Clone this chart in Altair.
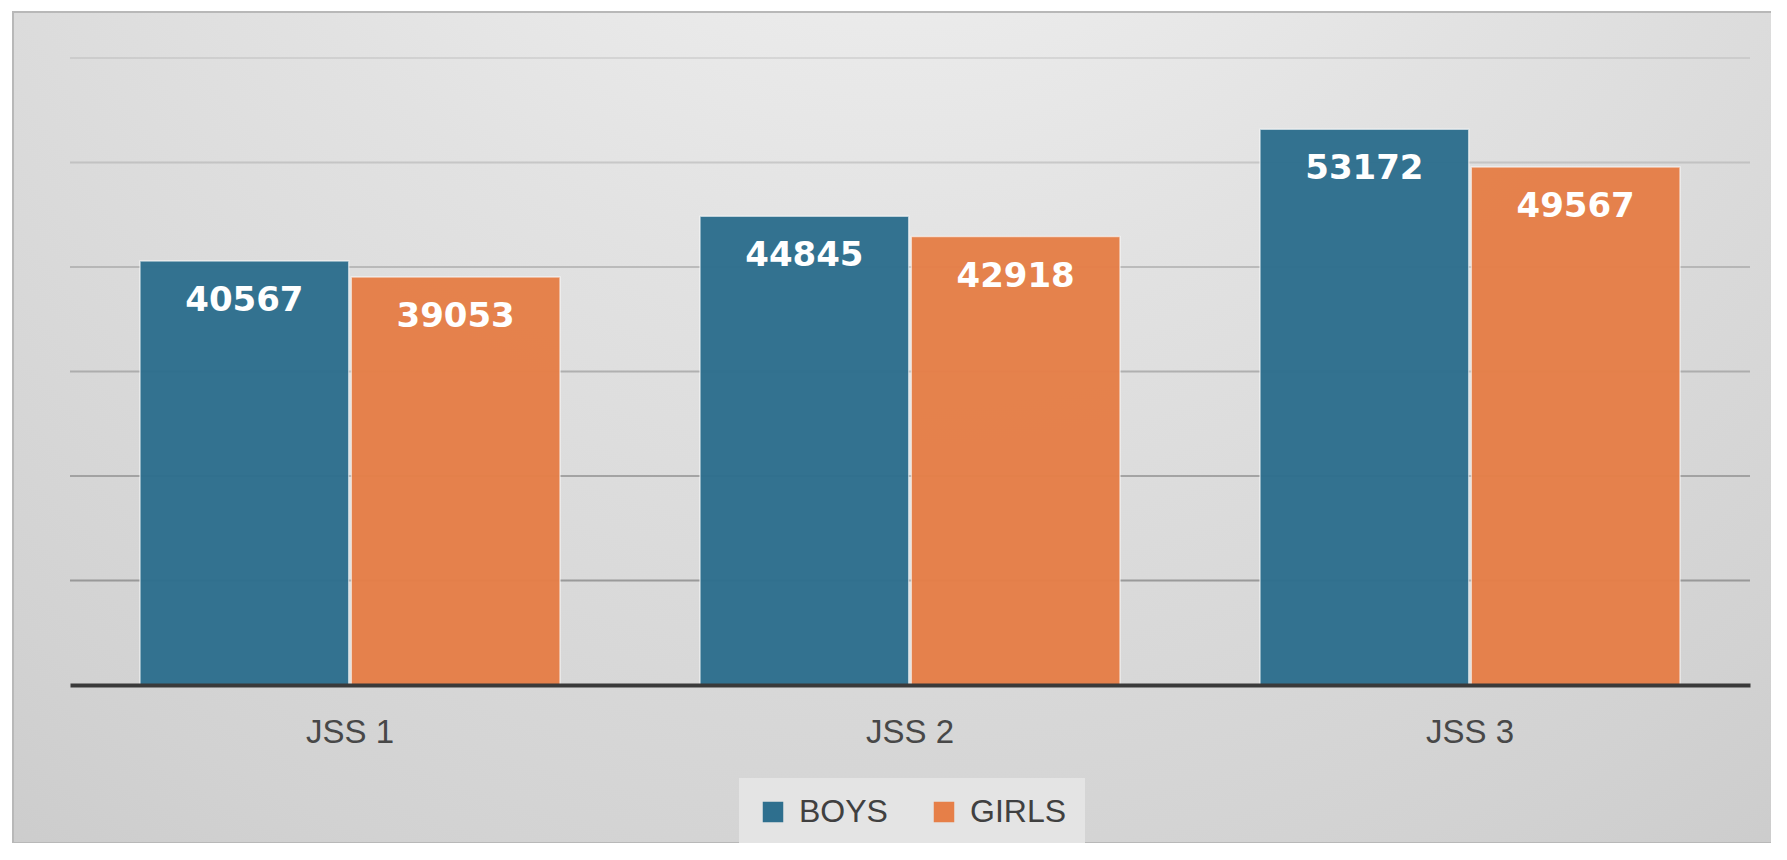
import altair as alt
import pandas as pd

categories = ["JSS 1", "JSS 2", "JSS 3"]
series = ["BOYS", "GIRLS"]
boys = [40567, 44845, 53172]
girls = [39053, 42918, 49567]
grid_values = [10000, 20000, 30000, 40000, 50000, 60000]
colors = ["#2e6f8e", "#e67f48"]

rows = []
for c, b, g in zip(categories, boys, girls):
    rows.append({"grade": c, "gender": "BOYS", "count": b})
    rows.append({"grade": c, "gender": "GIRLS", "count": g})
df = pd.DataFrame(rows)
grid_df = pd.DataFrame({"v": grid_values})

W, H = 1680, 627

y_scale = alt.Scale(domain=[0, 60000], nice=False)

bg = alt.Chart(pd.DataFrame({"a": [0]})).mark_rect(
    color=alt.RadialGradient(
        gradient="radial",
        stops=[
            alt.GradientStop(color="#ffffff", offset=0),
            alt.GradientStop(color="#f2f2f2", offset=0.12),
            alt.GradientStop(color="#e2e2e2", offset=0.4),
            alt.GradientStop(color="#d2d2d2", offset=0.75),
            alt.GradientStop(color="#c4c4c4", offset=1),
        ],
        x1=0.5, y1=0.0, r1=0.0, x2=0.5, y2=0.0, r2=1.05,
    ),
    stroke="#b8b8b8",
    strokeWidth=2,
).encode(
    x=alt.value(-57), x2=alt.value(1709), y=alt.value(-46), y2=alt.value(785)
)

grid = alt.Chart(grid_df).mark_rule(color="#8e8e8e", strokeWidth=2).encode(
    y=alt.Y("v:Q", scale=y_scale, axis=None),
    opacity=alt.Opacity("v:Q", scale=alt.Scale(domain=[60000, 10000], range=[0.2, 0.85]), legend=None),
)

x_enc = alt.X(
    "grade:N",
    sort=categories,
    scale=alt.Scale(paddingInner=0.25, paddingOuter=0.125),
    axis=alt.Axis(
        title=None, labelAngle=0, ticks=False, tickSize=0, labelPadding=57,
        labelBaseline="alphabetic", labelFontSize=33, labelFont="Liberation Sans",
        labelColor="#484848", domainColor="#3a3a3a", domainWidth=4, grid=False,
        zindex=1,
    ),
)
xoff = alt.XOffset("gender:N", sort=series, scale=alt.Scale(paddingInner=0.012))

bars = alt.Chart(df).mark_bar(opacity=0.97, stroke="#ffffff", strokeWidth=1.5, strokeOpacity=0.6).encode(
    x=x_enc,
    xOffset=xoff,
    y=alt.Y("count:Q", scale=y_scale, axis=None),
    color=alt.Color(
        "gender:N",
        sort=series,
        scale=alt.Scale(domain=series, range=colors),
        legend=alt.Legend(
            title=None, orient="none", legendX=669, legendY=720, direction="horizontal",
            symbolType="square", symbolSize=420, symbolStrokeWidth=0,
            labelFontSize=32, labelFont="Liberation Sans", labelColor="#404040",
            fillColor="#e4e4e4", padding=18, columnPadding=40, labelOffset=10,
            symbolOpacity=1,
        ),
    ),
)

labels = alt.Chart(df).mark_text(
    dy=50, baseline="alphabetic", align="center", font="DejaVu Sans",
    fontWeight="bold", fontSize=34, color="#ffffff",
).encode(
    x=x_enc,
    xOffset=xoff,
    y=alt.Y("count:Q", scale=y_scale, axis=None),
    text=alt.Text("count:Q", format="d"),
)

chart = alt.layer(bg, grid, bars, labels).properties(
    width=W, height=H,
    padding={"left": 62, "top": 50, "right": 21, "bottom": 158},
    autosize=alt.AutoSizeParams(type="none"),
).configure_view(strokeWidth=0).configure(background="#ffffff")

chart.save("out.html", embed_options={"renderer": "svg", "actions": False})
